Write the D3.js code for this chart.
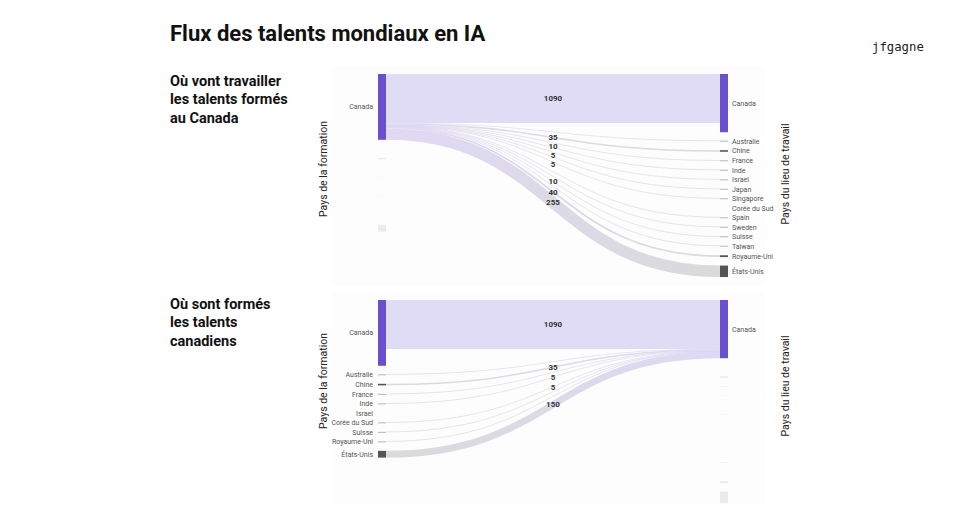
<!DOCTYPE html>
<html>
<head>
<meta charset="utf-8">
<script src="https://cdn.jsdelivr.net/npm/d3@7"></script>
<style>
  body { margin: 0; background: #fff; }
  svg { display: block; font-family: Roboto, "Noto Sans", sans-serif; }
</style>
</head>
<body>
<svg id="chart" width="960" height="523"></svg>
<script>
// countries on each side of the sankey
var sources = ["Canada", "Australie", "Chine", "France", "Inde", "Israel", "Corée du Sud", "Suisse", "Royaume-Uni", "États-Unis"];
var destinations = ["Canada", "Australie", "Chine", "France", "Inde", "Israel", "Japan", "Singapore", "Corée du Sud", "Spain", "Sweden", "Suisse", "Taiwan", "Royaume-Uni", "États-Unis"];

// talents formés au Canada -> pays du lieu de travail (same order as destinations)
var fromCanada = [1090, 2, 35, 10, 5, 2, 5, 2, 0, 2, 2, 10, 2, 40, 255];
// pays de formation -> travaillent au Canada (same order as sources)
var toCanada = [1090, 2, 35, 2, 5, 0, 5, 2, 2, 150];

var title = "Flux des talents mondiaux en IA";
var subtitles = [
    ["Où vont travailler", "les talents formés", "au Canada"],
    ["Où sont formés", "les talents", "canadiens"]
];

var svg = d3.select("#chart");

// constants
var nodeW = 8,
    pad = 8.5,
    labelGap = 9,
    purple = "#6a4fcf",
    lavender = "#dcd5f4",
    grey = "#d6d6d6";

var ky = d3.scaleLinear().domain([0, 1000]).range([0, 45]);
var colX = d3.scaleLinear().domain([0, 1]).range([378, 720]);

var leftValues = [d3.sum(fromCanada)].concat(toCanada.slice(1));
var rightValues = [d3.sum(toCanada)].concat(fromCanada.slice(1));

function stack(names, values, y0) {
    var y = y0;
    return names.map(function(name, i) {
        var h = ky(values[i]);
        var n = {name: name, value: values[i], y0: y, h: h};
        y += Math.max(h, 1) + pad;
        return n;
    });
}

var defs = svg.append("defs");

svg.append("text")
    .attr("x", 170).attr("y", 41)
    .style("font-size", "22px").style("font-weight", 700).attr("fill", "#111")
    .text(title);

svg.append("text")
    .attr("x", 872).attr("y", 51)
    .style("font-family", "'DejaVu Sans Mono', monospace")
    .style("font-size", "12.3px").attr("fill", "#222")
    .text("jfgagne");

var charts = [
    {mode: "out", top: 74, subY: 86, leftTitleY: 169, rightTitleY: 174, panel: [332, 66, 433, 220]},
    {mode: "in", top: 300, subY: 309, leftTitleY: 381, rightTitleY: 386, panel: [332, 292, 433, 212]}
];

charts.forEach(function(c, ci) {
    var g = svg.append("g");

    // faint panel behind the diagram
    g.append("rect")
        .attr("x", c.panel[0]).attr("y", c.panel[1])
        .attr("width", c.panel[2]).attr("height", c.panel[3])
        .attr("fill", "#fdfdfd");

    g.append("text")
        .attr("x", 170).attr("y", c.subY)
        .style("font-size", "14.5px").style("font-weight", 700).attr("fill", "#111")
        .selectAll("tspan")
        .data(subtitles[ci])
        .enter().append("tspan")
        .attr("x", 170)
        .attr("dy", function(d, i) { return i === 0 ? 0 : 18.3; })
        .text(function(d) { return d; });

    var left = stack(sources, leftValues, c.top);
    var right = stack(destinations, rightValues, c.top);
    var x0 = colX(0), x1 = colX(1);

    // build links
    var links = [];
    var off = 0;
    if (c.mode === "out") {
        fromCanada.forEach(function(v, j) {
            var w = ky(v);
            links.push({v: v, w: w, sy: left[0].y0 + off + w / 2, ty: right[j].y0 + w / 2, self: j === 0});
            off += w;
        });
    } else {
        toCanada.forEach(function(v, i) {
            var w = ky(v);
            links.push({v: v, w: w, sy: left[i].y0 + w / 2, ty: right[0].y0 + off + w / 2, self: i === 0});
            off += w;
        });
    }
    links = links.filter(function(d) { return d.v > 0; });

    var grad = defs.append("linearGradient")
        .attr("id", "grad" + ci)
        .attr("gradientUnits", "userSpaceOnUse")
        .attr("x1", x0 + nodeW).attr("x2", x1)
        .attr("y1", 0).attr("y2", 0);
    grad.append("stop").attr("offset", "0%").attr("stop-color", c.mode === "out" ? lavender : grey);
    grad.append("stop").attr("offset", "100%").attr("stop-color", c.mode === "out" ? grey : lavender);

    var linkGen = d3.linkHorizontal()
        .source(function(d) { return [x0 + nodeW, d.sy]; })
        .target(function(d) { return [x1, d.ty]; });

    g.selectAll("path.link")
        .data(links)
        .enter().append("path")
        .attr("class", "link")
        .attr("d", linkGen)
        .attr("fill", "none")
        .attr("stroke", function(d) { return d.self ? "#e1dcf6" : "url(#grad" + ci + ")"; })
        .attr("stroke-opacity", function(d) { return d.self ? 1 : 0.9; })
        .attr("stroke-width", function(d) { return Math.max(d.w, 0.7); });

    // nodes: highlighted side vs faded side
    function drawNodes(nodes, x, active, anchor) {
        var ng = g.append("g");
        nodes.forEach(function(n, i) {
            var isCanada = i === 0;
            var on = active || isCanada;
            if (n.value > 0 && on) {
                ng.append("rect")
                    .attr("x", x).attr("y", n.y0)
                    .attr("width", nodeW).attr("height", Math.max(n.h, 1))
                    .attr("fill", isCanada ? purple : (n.value >= 20 ? "#555" : "#b8b8b8"));
            } else if (n.value > 0) {
                ng.append("rect")
                    .attr("x", x).attr("y", n.y0)
                    .attr("width", nodeW).attr("height", n.h)
                    .attr("fill", "#ebebeb");
            }
            if (on) {
                ng.append("text")
                    .attr("x", anchor === "end" ? x - 5 : x + nodeW + 4)
                    .attr("y", n.y0 + Math.max(n.h, 1) / 2)
                    .attr("dy", "0.35em")
                    .attr("text-anchor", anchor)
                    .style("font-size", "7px")
                    .attr("fill", "#555")
                    .text(n.name);
            }
        });
    }
    drawNodes(left, x0, c.mode === "in", "end");
    drawNodes(right, x1, c.mode === "out", "start");

    // value labels on links, pushed apart so they don't collide
    var vals = links.filter(function(d) { return d.v >= 5; })
        .map(function(d) { return {v: d.v, y: (d.sy + d.ty) / 2}; })
        .sort(function(a, b) { return a.y - b.y; });
    for (var k = 1; k < vals.length; k++) {
        if (vals[k].y - vals[k - 1].y < labelGap) vals[k].y = vals[k - 1].y + labelGap;
    }

    g.selectAll("text.val")
        .data(vals)
        .enter().append("text")
        .attr("class", "val")
        .attr("x", (x0 + nodeW + x1) / 2)
        .attr("y", function(d) { return d.y; })
        .attr("dy", "0.35em")
        .attr("text-anchor", "middle")
        .style("font-size", "8px").style("font-weight", 700)
        .attr("fill", "#333")
        .text(function(d) { return d.v; });

    // axis titles
    g.append("text")
        .attr("transform", "translate(327," + c.leftTitleY + ") rotate(-90)")
        .attr("text-anchor", "middle")
        .style("font-size", "10.5px").attr("fill", "#222")
        .text("Pays de la formation");

    g.append("text")
        .attr("transform", "translate(789," + c.rightTitleY + ") rotate(-90)")
        .attr("text-anchor", "middle")
        .style("font-size", "10.5px").attr("fill", "#222")
        .text("Pays du lieu de travail");
});
</script>
</body>
</html>
